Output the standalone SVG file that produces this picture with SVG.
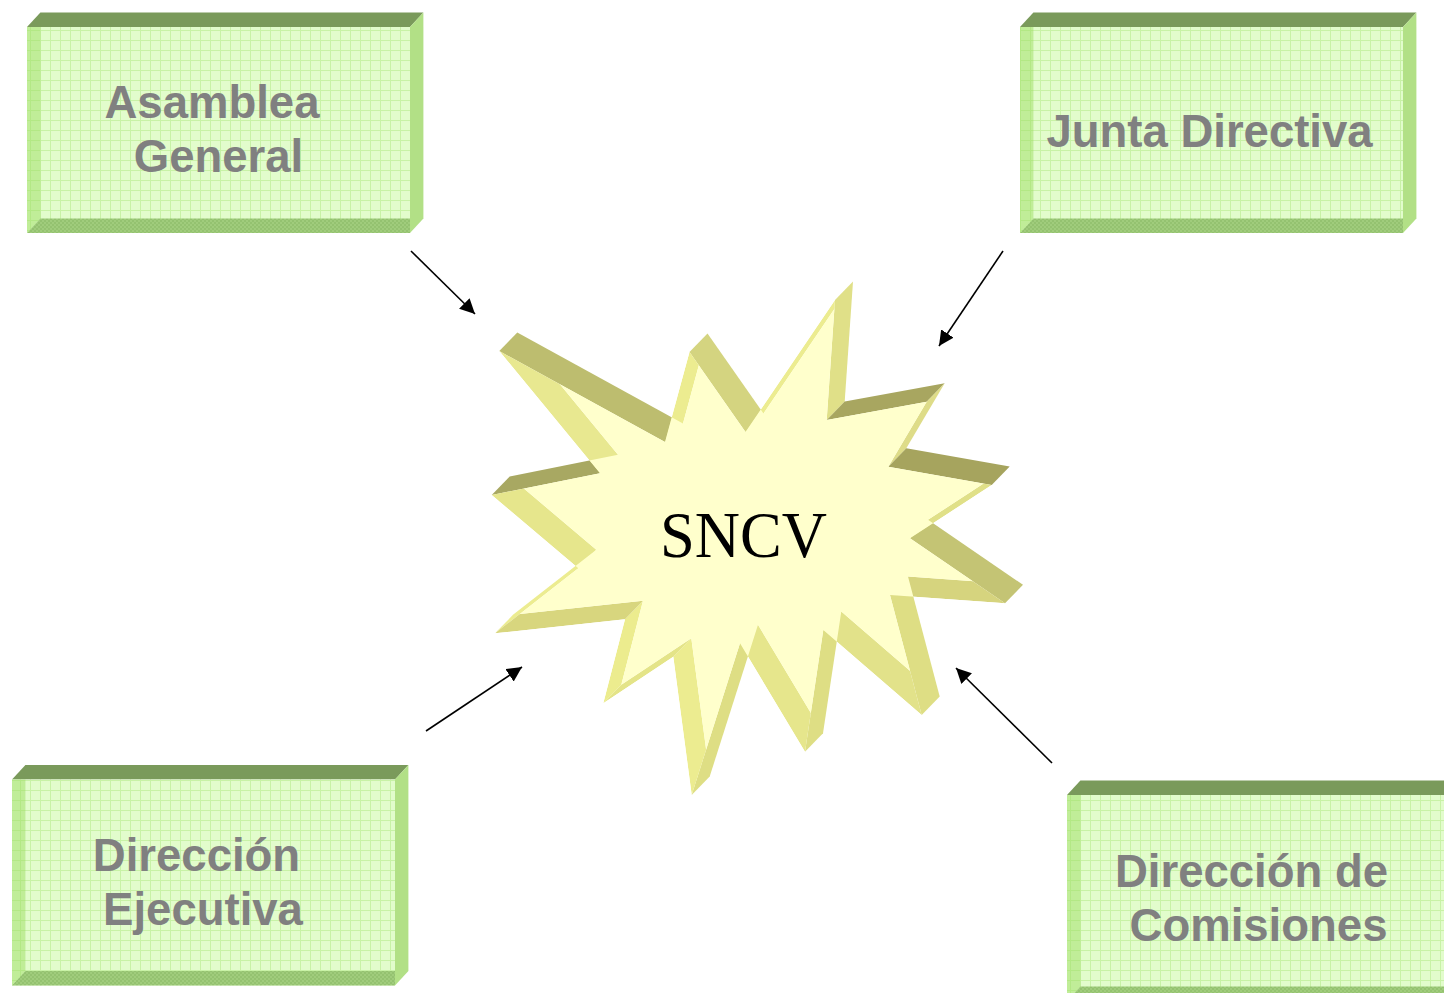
<svg xmlns="http://www.w3.org/2000/svg" xmlns:xlink="http://www.w3.org/1999/xlink" width="1444" height="993" viewBox="0 0 1444 993">
<style>
.btop{fill:#7a9a5b}
.bside{fill:#b2e086}
.bface{fill:url(#grid)}
.bleft{fill:#9ede64;fill-opacity:0.5}
.bbottom{fill:url(#hatch)}
.lbl{font-family:"Liberation Sans",Arial,sans-serif;font-weight:bold;font-size:45.5px;fill:#808080;text-anchor:middle}
.conn{stroke:#000;stroke-width:1.6;fill:none;marker-end:url(#arr)}
</style>
<defs>
<pattern id="grid" patternUnits="userSpaceOnUse" width="10" height="10">
<rect width="10" height="10" fill="#e2fccc"/>
<path d="M0,0.5H10M0.5,0V10" stroke="#c8f2a6" stroke-width="1"/>
</pattern>
<pattern id="hatch" patternUnits="userSpaceOnUse" width="4" height="4">
<rect width="4" height="4" fill="#a0cc7c"/>
<rect width="2" height="2" fill="#94c270"/>
<rect x="2" y="2" width="2" height="2" fill="#94c270"/>
</pattern>
<marker id="arr" markerUnits="userSpaceOnUse" markerWidth="15" markerHeight="15" refX="15" refY="7.5" orient="auto">
<path d="M0,0 L15,7.5 L0,15 z" fill="#000"/>
</marker>
<polygon id="starT" points="499.3,351 665,442 689.5,352 745.5,432 835,300 826.7,420 926.7,401.7 888.3,466.7 991.7,485 910,538.3 1005,603.3 890,595 921.7,715 823.3,630 805,751.7 740,643.3 691.7,795 673.3,656.7 603.3,703.3 625,619.3 495,633.3 578.3,568.3 491.7,495 600,473.3"/>
<clipPath id="starClip"><use xlink:href="#starT"/></clipPath>
</defs>
<rect width="1444" height="993" fill="#ffffff"/>

<g id="asamblea-general">
<polygon class="btop" points="27,27 40.4,12.5 423.4,12.5 410,27"/>
<polygon class="bside" points="410,27 423.4,12.5 423.4,218.5 410,233"/>
<rect class="bface" x="27" y="27" width="383" height="206"/>
<polygon class="bleft" points="27,27 40.4,27 40.4,218.5 27,233"/>
<polygon class="bbottom" points="27,233 40.4,218.5 410,218.5 410,233"/>
<text class="lbl" x="212" y="118">Asamblea</text>
<text class="lbl" x="218.5" y="172">General</text>
</g>

<g id="junta-directiva">
<polygon class="btop" points="1020,27 1033.4,12.5 1416.4,12.5 1403,27"/>
<polygon class="bside" points="1403,27 1416.4,12.5 1416.4,218.5 1403,233"/>
<rect class="bface" x="1020" y="27" width="383" height="206"/>
<polygon class="bleft" points="1020,27 1033.4,27 1033.4,218.5 1020,233"/>
<polygon class="bbottom" points="1020,233 1033.4,218.5 1403,218.5 1403,233"/>
<text class="lbl" x="1209.5" y="147">Junta Directiva</text>
</g>

<g id="direccion-ejecutiva">
<polygon class="btop" points="12,779.5 25.4,765 408.4,765 395,779.5"/>
<polygon class="bside" points="395,779.5 408.4,765 408.4,971 395,985.5"/>
<rect class="bface" x="12" y="779.5" width="383" height="206"/>
<polygon class="bleft" points="12,779.5 25.4,779.5 25.4,971 12,985.5"/>
<polygon class="bbottom" points="12,985.5 25.4,971 395,971 395,985.5"/>
<text class="lbl" x="196.5" y="871">Dirección</text>
<text class="lbl" x="203" y="925">Ejecutiva</text>
</g>

<g id="direccion-comisiones">
<polygon class="btop" points="1067,795 1080.4,780.5 1463.4,780.5 1450,795"/>
<rect class="bface" x="1067" y="795" width="383" height="206"/>
<polygon class="bleft" points="1067,795 1080.4,795 1080.4,986.5 1067,1001"/>
<polygon class="bbottom" points="1067,1001 1080.4,986.5 1450,986.5 1450,1001"/>
<text class="lbl" x="1251.5" y="887">Dirección de</text>
<text class="lbl" x="1258.5" y="941">Comisiones</text>
</g>

<g id="sncv">
<g id="sncv-outer-walls">
<polygon points="499.3,351 665,442 683,423.5 517.3,332.5" fill="#bdbd6f"/>
<polygon points="689.5,352 745.5,432 763.5,413.5 707.5,333.5" fill="#d4d480"/>
<polygon points="835,300 826.7,420 844.7,401.5 853,281.5" fill="#e0e088"/>
<polygon points="826.7,420 926.7,401.7 944.7,383.2 844.7,401.5" fill="#a8a660"/>
<polygon points="926.7,401.7 888.3,466.7 906.3,448.2 944.7,383.2" fill="#dedc88"/>
<polygon points="888.3,466.7 991.7,485 1009.7,466.5 906.3,448.2" fill="#a6a45e"/>
<polygon points="910,538.3 1005,603.3 1023,584.8 928,519.8" fill="#c4c474"/>
<polygon points="890,595 921.7,715 939.7,696.5 908,576.5" fill="#dede84"/>
<polygon points="823.3,630 805,751.7 823,733.2 841.3,611.5" fill="#dede84"/>
<polygon points="740,643.3 691.7,795 709.7,776.5 758,624.8" fill="#dede84"/>
<polygon points="495,633.3 578.3,568.3 596.3,549.8 513,614.8" fill="#ecec90"/>
<polygon points="491.7,495 600,473.3 618,454.8 509.7,476.5" fill="#a8a862"/>
</g>
<g id="sncv-face" clip-path="url(#starClip)">
<polygon points="665,442 689.5,352 707.5,333.5 683,423.5" fill="#ecec90"/>
<polygon points="745.5,432 835,300 853,281.5 763.5,413.5" fill="#ecec90"/>
<polygon points="991.7,485 910,538.3 928,519.8 1009.7,466.5" fill="#e0e088"/>
<polygon points="1005,603.3 890,595 908,576.5 1023,584.8" fill="#d6d47e"/>
<polygon points="921.7,715 823.3,630 841.3,611.5 939.7,696.5" fill="#e2e28a"/>
<polygon points="805,751.7 740,643.3 758,624.8 823,733.2" fill="#e6e68c"/>
<polygon points="691.7,795 673.3,656.7 691.3,638.2 709.7,776.5" fill="#ecec90"/>
<polygon points="673.3,656.7 603.3,703.3 621.3,684.8 691.3,638.2" fill="#e4e488"/>
<polygon points="603.3,703.3 625,619.3 643,600.8 621.3,684.8" fill="#ecec8e"/>
<polygon points="625,619.3 495,633.3 513,614.8 643,600.8" fill="#d8d67e"/>
<polygon points="578.3,568.3 491.7,495 509.7,476.5 596.3,549.8" fill="#e6e68c"/>
<polygon points="600,473.3 499.3,351 517.3,332.5 618,454.8" fill="#e8e890"/>
<use xlink:href="#starT" transform="translate(18,-18.5)" fill="#ffffcc"/>
</g>
<text x="743.5" y="557" font-family="'Liberation Serif','Times New Roman',serif" font-size="66" text-anchor="middle" fill="#000" textLength="167" lengthAdjust="spacingAndGlyphs">SNCV</text>
</g>

<g id="connectors">
<line class="conn" x1="411" y1="251" x2="475" y2="314"/>
<line class="conn" x1="1003" y1="251" x2="939" y2="346"/>
<line class="conn" x1="426" y1="731" x2="522" y2="667"/>
<line class="conn" x1="1052" y1="763" x2="956" y2="668"/>
</g>
</svg>
